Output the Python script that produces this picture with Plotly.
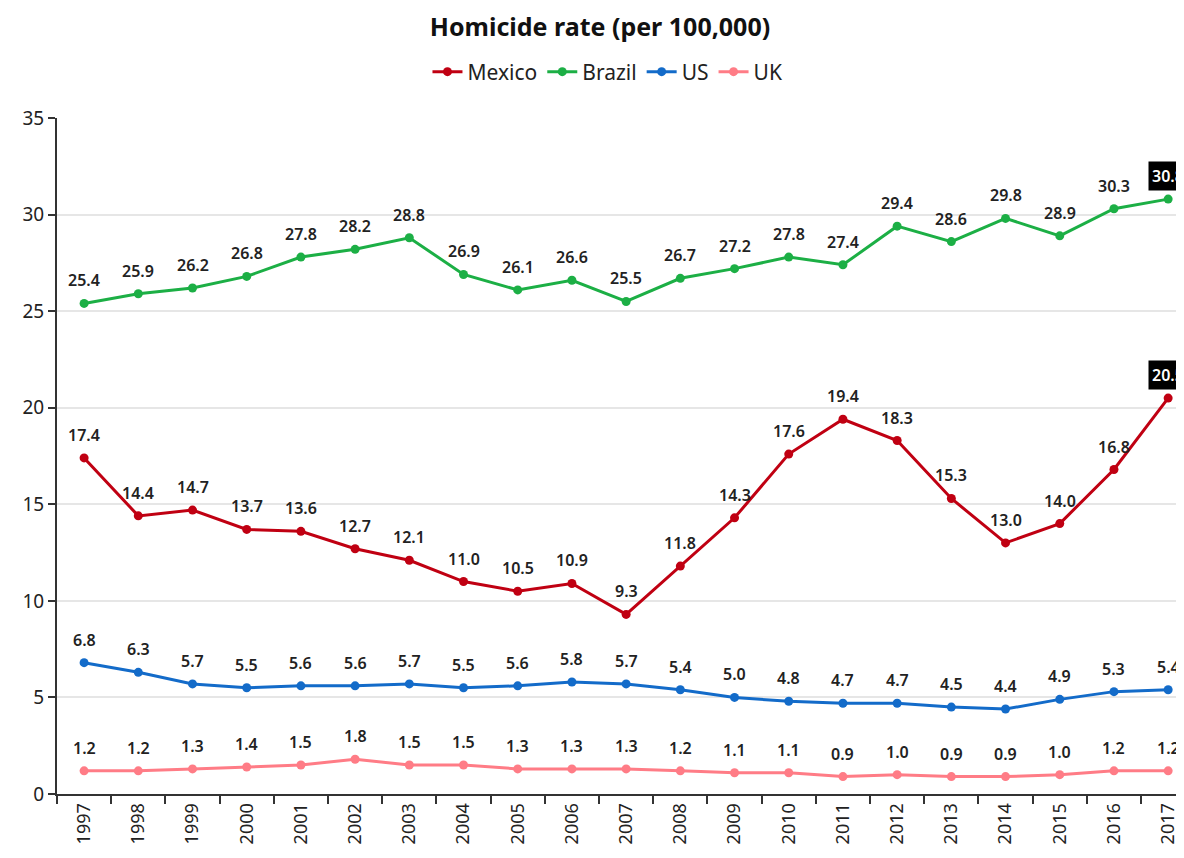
import plotly.graph_objects as go

years = [str(y) for y in range(1997, 2018)]
mexico = [17.4, 14.4, 14.7, 13.7, 13.6, 12.7, 12.1, 11.0, 10.5, 10.9, 9.3, 11.8, 14.3, 17.6, 19.4, 18.3, 15.3, 13.0, 14.0, 16.8, 20.5]
brazil = [25.4, 25.9, 26.2, 26.8, 27.8, 28.2, 28.8, 26.9, 26.1, 26.6, 25.5, 26.7, 27.2, 27.8, 27.4, 29.4, 28.6, 29.8, 28.9, 30.3, 30.8]
us = [6.8, 6.3, 5.7, 5.5, 5.6, 5.6, 5.7, 5.5, 5.6, 5.8, 5.7, 5.4, 5.0, 4.8, 4.7, 4.7, 4.5, 4.4, 4.9, 5.3, 5.4]
uk = [1.2, 1.2, 1.3, 1.4, 1.5, 1.8, 1.5, 1.5, 1.3, 1.3, 1.3, 1.2, 1.1, 1.1, 0.9, 1.0, 0.9, 0.9, 1.0, 1.2, 1.2]
y_ticks = [0, 5, 10, 15, 20, 25, 30, 35]

series = [
    ("Mexico", mexico, "#C00012", True),
    ("Brazil", brazil, "#1CAF45", True),
    ("US", us, "#136BC9", False),
    ("UK", uk, "#FF7C86", False),
]

FONT = "Noto Sans"
fig = go.Figure()
annotations = []
for name, vals, color, box_last in series:
    fig.add_trace(go.Scatter(
        x=years, y=vals, name=name, mode="lines+markers",
        line=dict(color=color, width=3),
        marker=dict(color=color, size=9),
    ))
    for i, v in enumerate(vals):
        last = box_last and i == len(vals) - 1
        ann = dict(
            x=i, y=v, xref="x", yref="y", text=f"{v:.1f}", showarrow=False,
            yshift=23,
            font=dict(family=FONT, size=16, color="white" if last else "#222222", weight=600),
            borderpad=3 if last else 1,
        )
        if last:
            ann["bgcolor"] = "black"
        annotations.append(ann)

fig.update_layout(
    width=1184, height=858,
    paper_bgcolor="white", plot_bgcolor="white",
    margin=dict(l=49, r=0, t=110, b=72),
    title=dict(text="<b>Homicide rate (per 100,000)</b>", x=0.5, xanchor="center",
               y=0.978, yanchor="middle", font=dict(family=FONT, size=25, color="#111111")),
    legend=dict(orientation="h", x=0.485, xanchor="center", y=1.068, yanchor="middle",
                font=dict(family=FONT, size=21, color="#222222"),
                tracegroupgap=0),
    annotations=annotations,
    showlegend=True,
)
fig.update_xaxes(
    type="category", range=[-0.5, 20.44], tickson="boundaries",
    ticks="outside", ticklen=8, tickwidth=2, tickcolor="#333333",
    showline=True, linecolor="#333333", linewidth=2,
    tickangle=-90, tickfont=dict(family=FONT, size=18, color="#222222"),
    showgrid=False,
)
fig.update_yaxes(
    range=[0, 35], tickvals=y_ticks, ticks="outside", ticklen=7, tickwidth=2,
    tickcolor="#333333", showline=True, linecolor="#333333", linewidth=2,
    gridcolor="#E6E6E6", gridwidth=1.5, zeroline=False,
    tickfont=dict(family=FONT, size=19, color="#222222"),
)
fig.write_html("out.html")
